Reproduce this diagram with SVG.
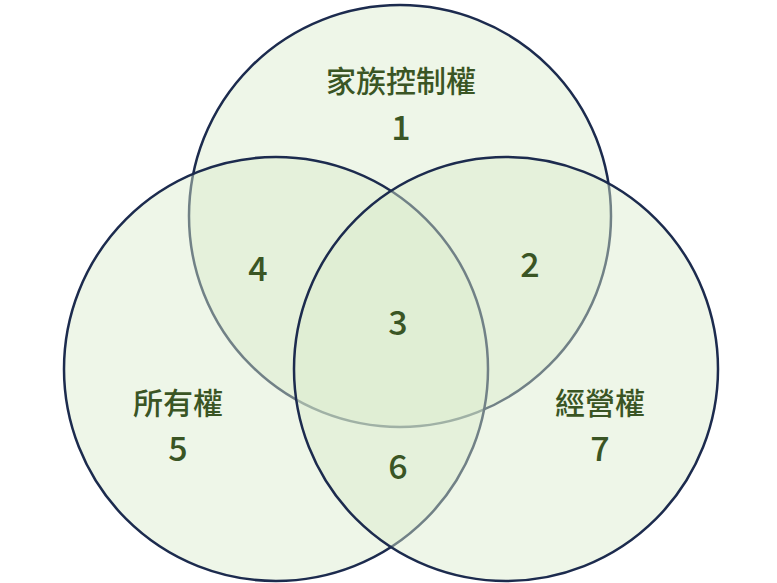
<svg xmlns="http://www.w3.org/2000/svg" width="777" height="583" viewBox="0 0 777 583">
<style>
.c{fill:#d9ebcc;fill-opacity:0.45;stroke:#1c2b4e;stroke-width:2.5}
text{font-family:"Noto Sans CJK TC","Noto Sans",sans-serif;fill:#3a5524;text-anchor:middle;font-weight:500}
.l{font-size:30px}.n{font-size:34px}
</style>
<rect width="777" height="583" fill="#fff"/>
<g id="circles">
<circle id="top" class="c" cx="400" cy="216" r="211"/>
<circle id="left" class="c" cx="276" cy="369" r="212"/>
<circle id="right" class="c" cx="506" cy="369" r="212"/>
</g>
<g id="labels">
<text class="l" x="401" y="92">家族控制權</text>
<text class="n" x="401" y="140">1</text>
<text class="n" x="530" y="277">2</text>
<text class="n" x="398" y="335">3</text>
<text class="n" x="258" y="281">4</text>
<text class="l" x="178" y="414">所有權</text>
<text class="n" x="178" y="461">5</text>
<text class="n" x="398" y="479">6</text>
<text class="l" x="600" y="414">經營權</text>
<text class="n" x="600" y="461">7</text>
</g>
</svg>
